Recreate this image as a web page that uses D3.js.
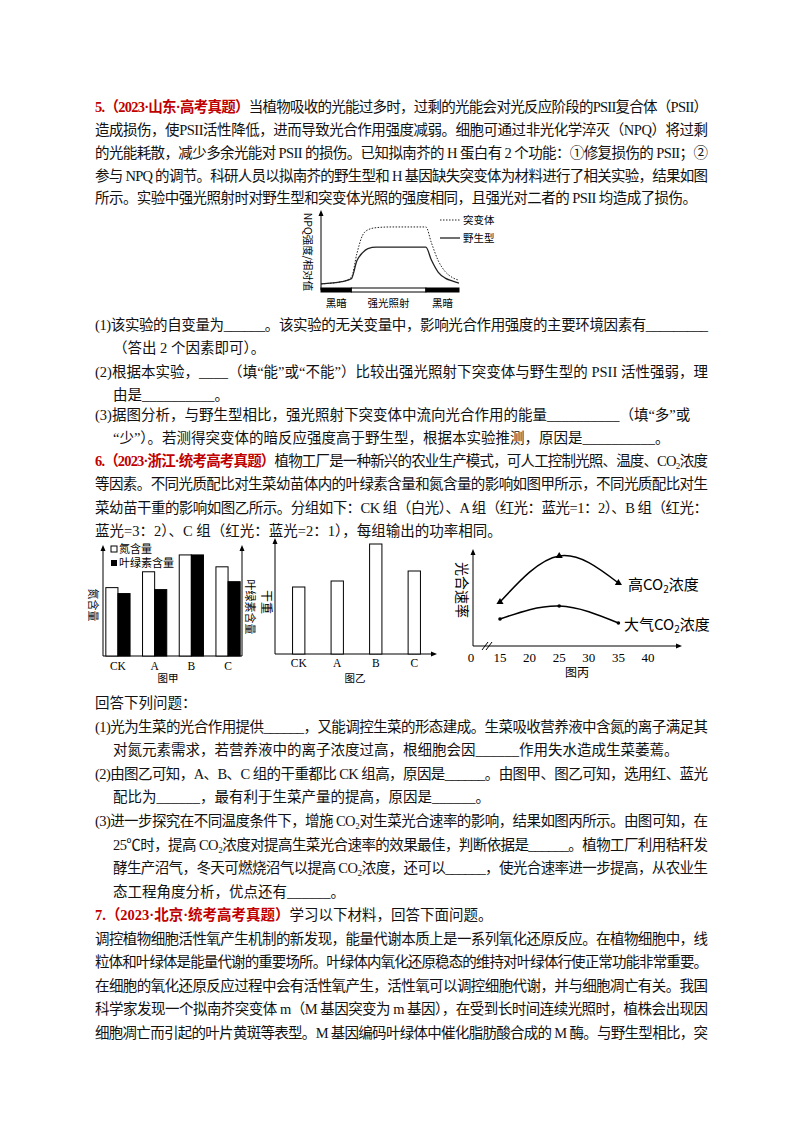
<!DOCTYPE html>
<html><head><meta charset="utf-8">
<script src="https://cdn.jsdelivr.net/npm/d3@7"></script>
<style>
body{margin:0;background:#fff}
text{font-family:"Liberation Serif","Noto Sans CJK SC",serif;}
.cjk{font-family:"Noto Sans CJK SC",sans-serif}
</style></head>
<body>
<svg id="page" width="800" height="1132"></svg>
<script>
'use strict';
// ---- data ----
const npqTime = [0, 1.5, 2.2, 2.6, 3, 3.4, 4, 5, 6, 7.6, 8, 8.5, 9, 9.5, 10];
const npqMutant = [0.3, 0.6, 1.2, 4.5, 7, 7.8, 8.1, 8.2, 8.2, 8.2, 6, 3.5, 2, 1.2, 0.8];
const npqWild = [0.3, 0.6, 1, 3.5, 4.6, 5.2, 5.4, 5.4, 5.4, 5.4, 3.6, 1.9, 1.1, 0.7, 0.4];
const lightPhases = [{s: 0, e: 2.2, dark: true, label: '黑暗'}, {s: 2.2, e: 7.6, dark: false, label: '强光照射'}, {s: 7.6, e: 10, dark: true, label: '黑暗'}];

const groups = ['CK', 'A', 'B', 'C'];
const nitrogen = [69, 85, 102, 90];
const chlorophyll = [63, 67, 102, 75];
const dryWeight = [67, 73, 110, 83];

const temps = [15, 25, 35];
const tempTicks = [0, 15, 20, 25, 30, 35, 40];
const rateHigh = [44, 90, 63];
const rateAir = [27, 40, 23];

const lines = [
  {y: 107, x: 95, full: true, parts: [['5.', 'r'], ['（2023·山东·高考真题）', 'r'], ['当植物吸收的光能过多时，过剩的光能会对光反应阶段的PSII复合体（PSII）', '']]},
  {y: 130, x: 95, full: true, t: '造成损伤，使PSII活性降低，进而导致光合作用强度减弱。细胞可通过非光化学淬灭（NPQ）将过剩'},
  {y: 153, x: 95, full: true, t: '的光能耗散，减少多余光能对 PSII 的损伤。已知拟南芥的 H 蛋白有 2 个功能：①修复损伤的 PSII；②'},
  {y: 176, x: 95, full: true, t: '参与 NPQ 的调节。科研人员以拟南芥的野生型和 H 基因缺失突变体为材料进行了相关实验，结果如图'},
  {y: 198, x: 95, len: 602, t: '所示。实验中强光照射时对野生型和突变体光照的强度相同，且强光对二者的 PSII 均造成了损伤。'},
  {y: 325, x: 95, full: true, t: '(1)该实验的自变量为______。该实验的无关变量中，影响光合作用强度的主要环境因素有_________'},
  {y: 348, x: 113, t: '（答出 2 个因素即可）。'},
  {y: 372, x: 95, full: true, t: '(2)根据本实验，____（填“能”或“不能”）比较出强光照射下突变体与野生型的 PSII 活性强弱，理'},
  {y: 395, x: 113, t: '由是__________。'},
  {y: 415, x: 95, t: '(3)据图分析，与野生型相比，强光照射下突变体中流向光合作用的能量__________（填“多”或'},
  {y: 438, x: 113, t: '“少”）。若测得突变体的暗反应强度高于野生型，根据本实验推测，原因是__________。'},
  {y: 461, x: 95, full: true, parts: [['6.', 'r'], ['（2023·浙江·统考高考真题）', 'r'], ['植物工厂是一种新兴的农业生产模式，可人工控制光照、温度、CO₂浓度', '']]},
  {y: 484, x: 95, full: true, t: '等因素。不同光质配比对生菜幼苗体内的叶绿素含量和氮含量的影响如图甲所示，不同光质配比对生'},
  {y: 508, x: 95, full: true, t: '菜幼苗干重的影响如图乙所示。分组如下：CK 组（白光）、A 组（红光：蓝光=1：2）、B 组（红光：'},
  {y: 531, x: 95, t: '蓝光=3：2）、C 组（红光：蓝光=2：1），每组输出的功率相同。'},
  {y: 703, x: 95, t: '回答下列问题：'},
  {y: 727, x: 95, full: true, t: '(1)光为生菜的光合作用提供______，又能调控生菜的形态建成。生菜吸收营养液中含氮的离子满足其'},
  {y: 750, x: 113, t: '对氮元素需求，若营养液中的离子浓度过高，根细胞会因______作用失水造成生菜萎蔫。'},
  {y: 774, x: 95, full: true, t: '(2)由图乙可知，A、B、C 组的干重都比 CK 组高，原因是______。由图甲、图乙可知，选用红、蓝光'},
  {y: 797, x: 113, t: '配比为______，最有利于生菜产量的提高，原因是______。'},
  {y: 821, x: 95, full: true, t: '(3)进一步探究在不同温度条件下，增施 CO₂对生菜光合速率的影响，结果如图丙所示。由图可知，在'},
  {y: 845, x: 113, full: true, t: '25℃时，提高 CO₂浓度对提高生菜光合速率的效果最佳，判断依据是______。植物工厂利用秸秆发'},
  {y: 868, x: 113, full: true, t: '酵生产沼气，冬天可燃烧沼气以提高 CO₂浓度，还可以______，使光合速率进一步提高，从农业生'},
  {y: 892, x: 113, t: '态工程角度分析，优点还有______。'},
  {y: 915, x: 95, parts: [['7.', 'r'], ['（2023·北京·统考高考真题）', 'r'], ['学习以下材料，回答下面问题。', '']]},
  {y: 939, x: 95, full: true, t: '调控植物细胞活性氧产生机制的新发现，能量代谢本质上是一系列氧化还原反应。在植物细胞中，线'},
  {y: 962, x: 95, full: true, t: '粒体和叶绿体是能量代谢的重要场所。叶绿体内氧化还原稳态的维持对叶绿体行使正常功能非常重要。'},
  {y: 986, x: 95, full: true, t: '在细胞的氧化还原反应过程中会有活性氧产生，活性氧可以调控细胞代谢，并与细胞凋亡有关。我国'},
  {y: 1009, x: 95, full: true, t: '科学家发现一个拟南芥突变体 m（M 基因突变为 m 基因），在受到长时间连续光照时，植株会出现因'},
  {y: 1033, x: 95, full: true, t: '细胞凋亡而引起的叶片黄斑等表型。M 基因编码叶绿体中催化脂肪酸合成的 M 酶。与野生型相比，突'}
];

const svg = d3.select('#page');

// ---- text ----
lines.forEach(l => {
  const t = svg.append('text').attr('x', l.x).attr('y', l.y + 5).attr('font-size', 14.5).attr('fill', '#111');
  if (l.full) t.attr('textLength', 708 - l.x).attr('lengthAdjust', 'spacing');
  if (l.len) t.attr('textLength', l.len).attr('lengthAdjust', 'spacing');
  if (l.parts) {
    l.parts.forEach(p => t.append('tspan').text(p[0])
      .attr('fill', p[1] ? '#c00000' : '#111').attr('font-weight', p[1] ? 'bold' : null));
  } else t.text(l.t);
});

function vlabel(x, y, txt, size) {
  svg.append('text').attr('class', 'cjk').attr('transform', `translate(${x},${y}) rotate(90)`)
    .attr('text-anchor', 'middle').attr('dy', '0.35em').attr('font-size', size || 11).text(txt);
}
function arrowUp(x, y) {
  svg.append('path').attr('d', `M${x - 2.5},${y + 6}L${x},${y}L${x + 2.5},${y + 6}Z`).attr('fill', '#000');
}
function arrowRight(x, y) {
  svg.append('path').attr('d', `M${x - 6},${y - 2.5}L${x},${y}L${x - 6},${y + 2.5}Z`).attr('fill', '#000');
}

// ---- chart 1: NPQ ----
{
  const x = d3.scaleLinear().domain([0, 10]).range([321, 459]);
  const y = d3.scaleLinear().domain([0, 10]).range([286, 214]);
  const g = svg.append('g');
  g.append('line').attr('x1', 321).attr('x2', 321).attr('y1', 290).attr('y2', 212).attr('stroke', '#000');
  arrowUp(321, 210);
  lightPhases.forEach(p => {
    g.append('rect').attr('x', x(p.s)).attr('y', 288).attr('width', x(p.e) - x(p.s)).attr('height', 4)
      .attr('fill', p.dark ? '#000' : '#fff').attr('stroke', '#000').attr('stroke-width', 1);
    g.append('text').attr('class', 'cjk').attr('x', (x(p.s) + x(p.e)) / 2).attr('y', 307)
      .attr('text-anchor', 'middle').attr('font-size', 10.5).text(p.label);
  });
  const ln = d3.line().x((d, i) => x(npqTime[i])).y(d => y(d)).curve(d3.curveMonotoneX);
  g.append('path').attr('d', ln(npqMutant)).attr('fill', 'none').attr('stroke', '#222').attr('stroke-dasharray', '1.5,1.5');
  g.append('path').attr('d', ln(npqWild)).attr('fill', 'none').attr('stroke', '#222').attr('stroke-width', 1.3);
  vlabel(308, 252, 'NPQ强度/相对值', 10.5);
  g.append('line').attr('x1', 440).attr('x2', 460).attr('y1', 220).attr('y2', 220).attr('stroke', '#222').attr('stroke-dasharray', '1.5,1.5');
  g.append('line').attr('x1', 440).attr('x2', 460).attr('y1', 238).attr('y2', 238).attr('stroke', '#222').attr('stroke-width', 1.3);
  g.append('text').attr('class', 'cjk').attr('x', 463).attr('y', 224).attr('font-size', 10.5).text('突变体');
  g.append('text').attr('class', 'cjk').attr('x', 463).attr('y', 242).attr('font-size', 10.5).text('野生型');
}

// ---- chart 甲 ----
{
  const x = d3.scaleBand().domain(groups).range([104, 242]).paddingInner(0.34).paddingOuter(0.05);
  const y = d3.scaleLinear().domain([0, 110]).range([656, 547]);
  const g = svg.append('g');
  g.append('line').attr('x1', 103).attr('x2', 103).attr('y1', 656).attr('y2', 548).attr('stroke', '#000');
  g.append('line').attr('x1', 242).attr('x2', 242).attr('y1', 656).attr('y2', 548).attr('stroke', '#000');
  g.append('line').attr('x1', 103).attr('x2', 242).attr('y1', 656).attr('y2', 656).attr('stroke', '#000');
  arrowUp(103, 545); arrowUp(242, 545);
  const bw = x.bandwidth() / 2;
  g.selectAll('.n').data(groups).join('rect').attr('x', d => x(d)).attr('width', bw)
    .attr('y', (d, i) => y(nitrogen[i])).attr('height', (d, i) => 656 - y(nitrogen[i]))
    .attr('fill', '#fff').attr('stroke', '#000');
  g.selectAll('.c').data(groups).join('rect').attr('x', d => x(d) + bw).attr('width', bw)
    .attr('y', (d, i) => y(chlorophyll[i])).attr('height', (d, i) => 656 - y(chlorophyll[i]))
    .attr('fill', '#000').attr('stroke', '#000');
  g.selectAll('.lab').data(groups).join('text').attr('x', d => x(d) + bw).attr('y', 670)
    .attr('text-anchor', 'middle').attr('font-size', 11.5).text(d => d);
  g.append('text').attr('class', 'cjk').attr('x', 168).attr('y', 682).attr('text-anchor', 'middle').attr('font-size', 10.5).text('图甲');
  g.append('rect').attr('x', 111).attr('y', 546).attr('width', 6).attr('height', 6).attr('fill', '#fff').attr('stroke', '#000');
  g.append('text').attr('class', 'cjk').attr('x', 119).attr('y', 553).attr('font-size', 11).text('氮含量');
  g.append('rect').attr('x', 111).attr('y', 560).attr('width', 6).attr('height', 6).attr('fill', '#000');
  g.append('text').attr('class', 'cjk').attr('x', 119).attr('y', 567).attr('font-size', 11).text('叶绿素含量');
  vlabel(93, 605, '氮含量', 11);
  vlabel(250, 607, '叶绿素含量', 11);
}

// ---- chart 乙 ----
{
  const x = d3.scaleBand().domain(groups).range([281, 432]).paddingInner(0.68).paddingOuter(0.3);
  const y = d3.scaleLinear().domain([0, 110]).range([654, 544]);
  const g = svg.append('g');
  g.append('line').attr('x1', 275).attr('x2', 275).attr('y1', 654).attr('y2', 540).attr('stroke', '#000');
  g.append('line').attr('x1', 275).attr('x2', 433).attr('y1', 654).attr('y2', 654).attr('stroke', '#000');
  arrowUp(275, 538); arrowRight(437, 654);
  g.selectAll('rect').data(groups).join('rect').attr('x', d => x(d)).attr('width', x.bandwidth())
    .attr('y', (d, i) => y(dryWeight[i])).attr('height', (d, i) => 654 - y(dryWeight[i]))
    .attr('fill', '#fff').attr('stroke', '#000');
  g.selectAll('.lab').data(groups).join('text').attr('x', d => x(d) + x.bandwidth() / 2).attr('y', 667)
    .attr('text-anchor', 'middle').attr('font-size', 11.5).text(d => d);
  g.append('text').attr('class', 'cjk').attr('x', 355).attr('y', 682).attr('text-anchor', 'middle').attr('font-size', 10.5).text('图乙');
  vlabel(266, 602, '干重', 12);
}

// ---- chart 丙 ----
{
  const x = d3.scaleLinear().domain([15, 40]).range([500, 648]);
  const y = d3.scaleLinear().domain([0, 100]).range([646, 546]);
  const g = svg.append('g');
  g.append('line').attr('x1', 473).attr('x2', 473).attr('y1', 646).attr('y2', 552).attr('stroke', '#000');
  g.append('line').attr('x1', 473).attr('x2', 678).attr('y1', 646).attr('y2', 646).attr('stroke', '#000');
  arrowUp(473, 549); arrowRight(682, 646);
  g.append('path').attr('d', 'M482,650L488,642M486,650L492,642').attr('stroke', '#000');
  g.selectAll('.tk').data(tempTicks).join('text')
    .attr('x', d => d === 0 ? 471 : x(d)).attr('y', 662).attr('text-anchor', 'middle').attr('font-size', 13).text(d => d);
  g.append('text').attr('class', 'cjk').attr('x', 577).attr('y', 677).attr('text-anchor', 'middle').attr('font-size', 12).text('图丙');
  const ln = d3.line().x((d, i) => x(temps[i])).y(d => y(d)).curve(d3.curveNatural);
  g.append('path').attr('d', ln(rateHigh)).attr('fill', 'none').attr('stroke', '#000').attr('stroke-width', 1.5);
  g.append('path').attr('d', ln(rateAir)).attr('fill', 'none').attr('stroke', '#000').attr('stroke-width', 1.5);
  g.selectAll('.tri').data(rateHigh).join('path')
    .attr('d', d3.symbol(d3.symbolTriangle, 22)).attr('transform', (d, i) => `translate(${x(temps[i])},${y(d)})`);
  g.selectAll('.dot').data(rateAir).join('circle')
    .attr('cx', (d, i) => x(temps[i])).attr('cy', d => y(d)).attr('r', 1.8);
  vlabel(462, 590, '光合速率', 14);
  const lab = (xx, yy, pre) => {
    const t = g.append('text').attr('class', 'cjk').attr('x', xx).attr('y', yy).attr('font-size', 15);
    t.append('tspan').text(pre + 'CO');
    t.append('tspan').attr('font-size', 10).attr('dy', 3).text('2');
    t.append('tspan').attr('dy', -3).text('浓度');
  };
  lab(628, 590, '高');
  lab(624, 630, '大气');
}
</script>
</body></html>
